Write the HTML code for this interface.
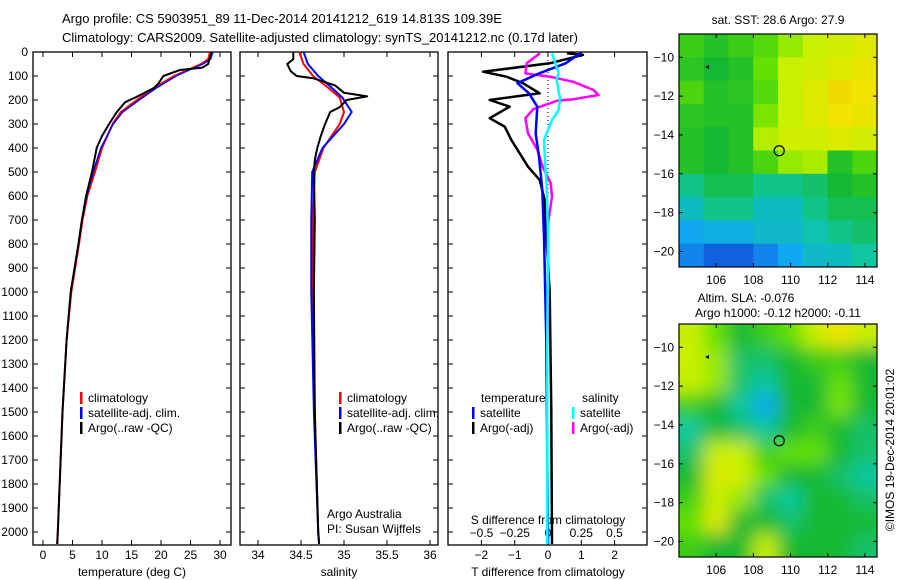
<!DOCTYPE html>
<html><head><meta charset="utf-8"><style>
html,body{margin:0;padding:0;background:#fff;}
svg{display:block;font-family:"Liberation Sans",sans-serif;}
</style></head><body>
<svg id="chart" width="900" height="580" viewBox="0 0 900 580">
<defs><filter id="blur" x="0" y="0" width="1" height="1"><feGaussianBlur stdDeviation="9"/></filter>
<clipPath id="clipM1"><rect x="679" y="34" width="198" height="233"/></clipPath>
<clipPath id="clipM2"><rect x="679" y="324" width="198" height="233"/></clipPath></defs>
<text x="62" y="23" font-size="13">Argo profile: CS 5903951_89 11-Dec-2014 20141212_619 14.813S 109.39E</text>
<text x="62" y="42" font-size="13">Climatology: CARS2009. Satellite-adjusted climatology: synTS_20141212.nc (0.17d later)</text>
<g id="g"></g>
</svg>
<script>
// ---- data ----
const depthTicks=[0,100,200,300,400,500,600,700,800,900,1000,1100,1200,1300,1400,1500,1600,1700,1800,1900,2000];
const tempTicks=[0,5,10,15,20,25,30];
const salTicks=[34,34.5,35,35.5,36];
const tdTicks=[-2,-1,0,1,2];
const sdTicks=[-0.5,-0.25,0,0.25,0.5];
const tempClimDepth=[0,30,50,75,100,150,200,250,300,400,500,600,700,800,1000,1200,1500,2000,2050];
const tempClim=[28.3,28,26.8,24.5,22.2,18.8,15.9,13.2,11.8,10.0,8.8,7.5,6.7,6.1,4.8,4.0,3.3,2.5,2.4];
const tempSat=[28.8,28.4,27.1,24.8,22.6,19.2,16.3,13.5,11.9,9.8,8.5,7.4,6.6,6.0,4.7,4.0,3.3,2.5,2.4];
const tempArgoDepth=[0,20,50,65,75,100,130,150,190,200,210,250,300,350,400,500,600,700,800,1000,1200,1500,2000,2050];
const tempArgo=[28.6,28.3,28,27,23.2,20.4,19.6,18.8,15.6,14.7,13.9,12.5,11.2,10.0,9.1,8.3,7.3,6.6,6.0,4.7,4.0,3.3,2.5,2.4];
const salDepth=[0,50,100,150,190,250,300,400,500,700,1000,1500,2000,2050];
const salClim=[34.48,34.53,34.64,34.82,34.95,35.0,34.95,34.76,34.66,34.64,34.64,34.66,34.7,34.71];
const salSat=[34.53,34.58,34.7,34.86,34.98,35.09,35.0,34.75,34.63,34.62,34.62,34.65,34.7,34.71];
const salArgoDepth=[0,30,50,80,100,110,140,170,185,200,230,250,300,350,400,450,500,700,1000,1500,2000,2050];
const salArgo=[34.41,34.41,34.34,34.38,34.45,34.65,34.9,35.0,35.27,35.03,34.95,34.84,34.78,34.73,34.69,34.66,34.65,34.66,34.65,34.66,34.7,34.71];
const tdArgoDepth=[5,12,47,82,103,130,172,200,228,276,311,367,422,478,533,617,770,1000,1500,2050];
const tdArgo=[0.57,1.05,0.05,-1.95,-1.25,-0.75,-0.25,-1.75,-1.15,-1.75,-1.3,-1.1,-0.85,-0.6,-0.25,-0.1,-0.05,0.05,0.1,0.12];
const tdSatDepth=[5,47,89,130,172,228,339,436,575,770,1200,2050];
const tdSat=[0.98,0.53,-0.27,-0.92,-0.57,-0.32,-0.37,-0.27,-0.17,-0.12,-0.05,0];
const sdArgoDepth=[5,47,89,103,124,158,179,197,203,238,276,339,408,478,547,603,714,1000,1430];
const sdArgo=[-0.06,-0.16,-0.17,0.015,0.19,0.34,0.38,0.19,0.07,-0.11,-0.17,-0.15,-0.08,-0.04,0.02,0.03,0,0,-0.01];
const sdSatDepth=[5,47,89,117,193,242,283,367,478,561,770,1200,2050];
const sdSat=[0.03,0.055,0.08,0.065,0.09,0.08,0.03,-0.03,-0.02,-0.01,0,-0.005,-0.005];
const lonTicks=[106,108,110,112,114];
const latTicks=[-10,-12,-14,-16,-18,-20];
const sstGrid=[
[0.55,0.52,0.55,0.58,0.65,0.7,0.72,0.75],
[0.53,0.5,0.52,0.6,0.7,0.72,0.75,0.78],
[0.57,0.52,0.53,0.58,0.7,0.75,0.82,0.8],
[0.53,0.52,0.52,0.62,0.7,0.75,0.8,0.78],
[0.52,0.5,0.52,0.68,0.72,0.72,0.75,0.72],
[0.52,0.5,0.52,0.57,0.65,0.67,0.52,0.57],
[0.42,0.47,0.47,0.42,0.42,0.45,0.5,0.52],
[0.36,0.42,0.42,0.36,0.36,0.42,0.47,0.47],
[0.3,0.32,0.32,0.35,0.35,0.38,0.42,0.45],
[0.25,0.2,0.2,0.25,0.3,0.35,0.36,0.4]];
const slaGrid=[
[0.7,0.6,0.5,0.55,0.6,0.7,0.8,0.7],
[0.7,0.65,0.45,0.45,0.5,0.55,0.55,0.5],
[0.7,0.65,0.45,0.4,0.5,0.5,0.6,0.5],
[0.55,0.5,0.4,0.3,0.5,0.5,0.62,0.5],
[0.4,0.5,0.45,0.4,0.5,0.55,0.5,0.45],
[0.45,0.7,0.7,0.55,0.6,0.6,0.5,0.45],
[0.5,0.75,0.72,0.6,0.5,0.5,0.45,0.4],
[0.55,0.7,0.65,0.45,0.4,0.5,0.5,0.45],
[0.6,0.75,0.5,0.5,0.45,0.5,0.5,0.5],
[0.55,0.5,0.5,0.7,0.5,0.5,0.5,0.45]];
const floatLon=109.39, floatLat=-14.813;

// ---- helpers ----
const NS="http://www.w3.org/2000/svg";
const G=document.getElementById('g');
function mk(tag,attrs,parent){const e=document.createElementNS(NS,tag);for(const k in attrs)e.setAttribute(k,attrs[k]);(parent||G).appendChild(e);return e;}
const Y0=52, PY=0.24, YB=545;
const yD=d=>Y0+d*PY;
const xT=t=>43+t*5.9;
const xS=s=>258+(s-34)*86;
const xTD=v=>548+v*33.3;
const xSD=v=>548+v*133;
const panels=[[33,231],[240,438],[448,647]];

panels.forEach((p,i)=>{
  const r=mk('rect',{x:p[0],y:Y0,width:p[1]-p[0],height:YB-Y0,fill:'none',stroke:'#000','stroke-width':1.3});
  
  
  depthTicks.forEach(d=>{
    mk('line',{x1:p[0],x2:p[0]+5,y1:yD(d),y2:yD(d),stroke:'#000'});
    mk('line',{x1:p[1]-5,x2:p[1],y1:yD(d),y2:yD(d),stroke:'#000'});
  });
});
depthTicks.forEach(d=>{
  const t=mk('text',{x:28,y:yD(d)+4,'font-size':12,'text-anchor':'end'});t.textContent=d;
  
  
});
function xticks(ticks,fx,y,lab,p,top){
  ticks.forEach(v=>{const x=fx(v);
    mk('line',{x1:x,x2:x,y1:YB,y2:YB-5,stroke:'#000'});
    if(top) mk('line',{x1:x,x2:x,y1:Y0,y2:Y0+5,stroke:'#000'});
    const t=mk('text',{x:x,y:y,'font-size':12,'text-anchor':'middle'});t.textContent=lab(v);
    
    
  });
}
const fm=v=>String(v).replace('-','\u2212');
xticks(tempTicks,xT,559,fm,0,true);
xticks(salTicks,xS,559,fm,1,true);
xticks(tdTicks,xTD,559,fm,2,true);
sdTicks.forEach(v=>{const t=mk('text',{x:xSD(v),y:537,'font-size':12,'text-anchor':'middle'});t.textContent=fm(v);
  
  });
function label(x,y,txt,name,anchor,size){const t=mk('text',{x:x,y:y,'font-size':size||12,'text-anchor':anchor||'middle'});t.textContent=txt;
  
  return t;}
label(132,576,'temperature (deg C)','x-axis-title-temperature');
label(339,576,'salinity','x-axis-title-salinity');
label(548,576,'T difference from climatology','x-axis-title-t-diff');
label(548,524,'S difference from climatology','x-axis-title-s-diff');

function line(depths,vals,fx,color,w,name,dash){
  const pts=depths.map((d,i)=>fx(vals[i]).toFixed(1)+','+yD(d).toFixed(1)).join(' ');
  const a={points:pts,fill:'none',stroke:color,'stroke-width':w,'stroke-linejoin':'round'};
  if(dash)a['stroke-dasharray']=dash;
  const e=mk('polyline',a);
  
  
}
line(tempClimDepth,tempClim,xT,'#f00',2,'temp-climatology-line');
line(tempClimDepth,tempSat,xT,'#00f',1.5,'temp-satellite-line');
line(tempArgoDepth,tempArgo,xT,'#000',2,'temp-argo-line');
line(salDepth,salClim,xS,'#f00',2,'sal-climatology-line');
line(salDepth,salSat,xS,'#00f',2,'sal-satellite-line');
line(salArgoDepth,salArgo,xS,'#000',2,'sal-argo-line');
const z=mk('line',{x1:548,x2:548,y1:Y0,y2:YB,stroke:'#000','stroke-dasharray':'1,3'});


line(tdArgoDepth,tdArgo,xTD,'#000',2.5,'t-diff-argo-line');
line(sdArgoDepth,sdArgo,xSD,'#f0f',2.5,'s-diff-argo-line');
line(tdSatDepth,tdSat,xTD,'#00f',2.5,'t-diff-satellite-line');
line(sdSatDepth,sdSat,xSD,'#0ff',2.5,'s-diff-satellite-line');

function legItem(x,y,color,txt,name){
  const m=mk('rect',{x:x,y:y-10,width:2.5,height:12,fill:color});
  
  
  label(x+8,y,txt,name,'start');
}
legItem(80,402,'#f00','climatology','legend-climatology');
legItem(80,417,'#00f','satellite-adj. clim.','legend-satellite');
legItem(80,432,'#000','Argo(..raw -QC)','legend-argo');
legItem(339,402,'#f00','climatology','legend-sal-climatology');
legItem(339,417,'#00f','satellite-adj. clim.','legend-sal-satellite');
legItem(339,432,'#000','Argo(..raw -QC)','legend-sal-argo');
label(481,402,'temperature','legend-temperature-heading','start');
label(582,402,'salinity','legend-salinity-heading','start');
legItem(472,417,'#00f','satellite','legend-td-satellite');
legItem(472,432,'#000','Argo(-adj)','legend-td-argo');
legItem(572,417,'#0ff','satellite','legend-sd-satellite');
legItem(572,432,'#f0f','Argo(-adj)','legend-sd-argo');
label(327,518,'Argo Australia','credit-line-1','start');
label(327,533,'PI: Susan Wijffels','credit-line-2','start');

// ---- maps ----
const stops=[[0,[0,40,190]],[0.2,[16,96,224]],[0.3,[16,168,240]],[0.4,[16,200,160]],[0.5,[20,185,50]],[0.6,[100,225,0]],[0.7,[200,240,0]],[0.8,[240,228,0]],[0.9,[240,176,0]]];
function cmap(v){for(let i=1;i<stops.length;i++){if(v<=stops[i][0]){const a=stops[i-1],b=stops[i],f=(v-a[0])/(b[0]-a[0]);return 'rgb('+a[1].map((c,k)=>Math.round(c+(b[1][k]-c)*f)).join(',')+')';}}return 'rgb(240,176,0)';}
function drawMap(grid,top,name,blur,clip){
  const L=679,W=198,H=233;
  const lonA=104.0,lonB=114.65,latA=-8.8,latB=-20.8;
  const xL=lon=>L+(lon-lonA)/(lonB-lonA)*W, yL=lat=>top+(lat-latA)/(latB-latA)*H;
  const g=mk('g',{'clip-path':'url(#'+clip+')'});
  
  
  const gi=mk('g',blur?{filter:'url(#blur)'}:{},g);
  const nr=grid.length,nc=grid[0].length,cw=W/nc,ch=H/nr;
  grid.forEach((row,r)=>row.forEach((v,c)=>{
    const pad=blur?(c===0||c===nc-1||r===0||r===nr-1?20:0):0;
    mk('rect',{x:L+c*cw-(c===0?pad:0),y:top+r*ch-(r===0?pad:0),width:cw+0.6+(c===0||c===nc-1?pad:0),height:ch+0.6+(r===0||r===nr-1?pad:0),fill:cmap(v)},gi);
  }));
  const f=mk('rect',{x:L,y:top,width:W,height:H,fill:'none',stroke:'#000','stroke-width':1.2});
  
  
  lonTicks.forEach(lo=>{const x=xL(lo);
    mk('line',{x1:x,x2:x,y1:top,y2:top+4,stroke:'#000'});mk('line',{x1:x,x2:x,y1:top+H,y2:top+H-4,stroke:'#000'});
    label(x,top+H+17,lo,name+'-lon-label');});
  latTicks.forEach(la=>{const y=yL(la);
    mk('line',{x1:L,x2:L+4,y1:y,y2:y,stroke:'#000'});mk('line',{x1:L+W,x2:L+W-4,y1:y,y2:y,stroke:'#000'});
    label(L-5,y+4,fm(la),name+'-lat-label','end');});
  const c=mk('circle',{cx:xL(floatLon),cy:yL(floatLat),r:5,fill:'none',stroke:'#000','stroke-width':1.2});
  
  
  mk('path',{d:`M${xL(105.4)},${yL(-10.5)} l4,-2 l0,4 z`,fill:'#000'});
}
drawMap(sstGrid,34,'sst-map',false,'clipM1');
drawMap(slaGrid,324,'sla-map',true,'clipM2');
label(778,24,'sat. SST: 28.6  Argo: 27.9','sst-map-title');
label(746,302,'Altim. SLA: -0.076','sla-map-title');
label(778,317,'Argo h1000: -0.12 h2000: -0.11','sla-map-subtitle');
const ts=label(0,0,'\u00a9IMOS 19-Dec-2014 20:01:02','timestamp');
ts.setAttribute('transform','translate(894,450) rotate(-90)');
</script>
</body></html>
